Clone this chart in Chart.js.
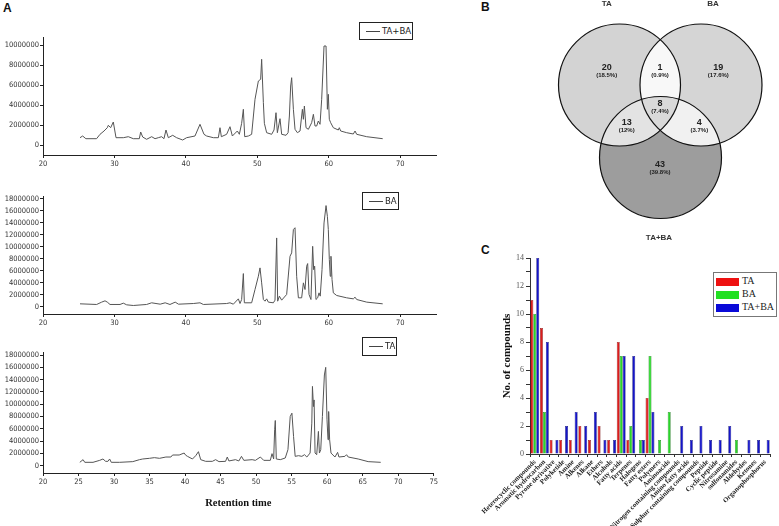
<!DOCTYPE html>
<html>
<head>
<meta charset="utf-8">
<script src="https://cdn.jsdelivr.net/npm/chart.js@4.4.1/dist/chart.umd.min.js"></script>
<style>
  body { margin: 0; background: #fff; width: 779px; height: 526px; position: relative; overflow: hidden; font-family: 'Liberation Sans', Arial, sans-serif; }
  canvas { position: absolute; }
  .tag { position: absolute; font-weight: bold; font-size: 12px; color: #111; }
  .lg { position: absolute; border: 1px solid #222; background: #fff; box-sizing: border-box; font-family: 'Liberation Sans Narrow', 'DejaVu Sans Condensed', sans-serif; font-size: 9.5px; color: #222; white-space: nowrap; }
  .lg i { position: absolute; left: 6px; top: 8px; width: 14px; border-top: 1px solid #444; }
  .lg span { position: absolute; left: 22px; top: 2px; }
  .lgc { position: absolute; left: 713px; top: 272px; width: 64px; height: 45px; border: 1px solid #777; box-sizing: border-box; background: #fff; font-family: 'Liberation Serif', 'Times New Roman', serif; font-size: 10px; color: #222; }
  .lgc div { position: absolute; left: 2px; height: 10px; line-height: 10px; }
  .lgc b { display: inline-block; width: 23px; height: 8px; vertical-align: middle; margin-right: 3px; }
</style>
</head>
<body>
<div class="tag" style="left:3px;top:1px">A</div>
<div class="tag" style="left:481px;top:0px">B</div>
<div class="tag" style="left:481px;top:243px">C</div>

<canvas id="a1" width="440" height="172" style="left:0;top:0"></canvas>
<canvas id="a2" width="440" height="160" style="left:0;top:172px"></canvas>
<canvas id="a3" width="440" height="194" style="left:0;top:332px"></canvas>
<canvas id="venn" width="339" height="250" style="left:440px;top:0"></canvas>
<canvas id="bars" width="339" height="276" style="left:440px;top:250px"></canvas>

<div class="lg" style="left:359px;top:22px;width:54px;height:18px"><i></i><span>TA+BA</span></div>
<div class="lg" style="left:362px;top:192px;width:37px;height:18px"><i></i><span>BA</span></div>
<div class="lg" style="left:362px;top:337px;width:35px;height:19px"><i></i><span>TA</span></div>

<div class="lgc">
  <div style="top:3px"><b style="background:#ee1111"></b>TA</div>
  <div style="top:16px"><b style="background:#22e022"></b>BA</div>
  <div style="top:29px"><b style="background:#0a0ad8"></b>TA+BA</div>
</div>

<script>
// ---- Panel A: chromatograms, retention time (min) vs abundance (millions) ----
const tabaTime = [25.18,25.55,26.0,27.5,27.98,28.54,29.0,29.14,29.47,29.84,30.22,31.24,31.94,32.64,33.48,33.67,33.95,34.5,35.21,35.68,36.14,36.6,36.93,37.21,37.54,38.15,38.7,39.55,40.1,41.27,41.97,42.53,42.9,43.84,44.54,44.77,44.96,45.7,46.17,46.5,47.2,47.48,47.8,48.04,48.23,48.74,49.2,49.67,50.14,50.46,50.6,50.84,50.98,51.3,52.0,52.33,52.61,52.8,53.17,53.4,54.01,54.3,54.48,54.66,54.8,55.04,55.27,55.6,55.97,56.3,56.44,56.58,56.81,57.14,57.6,57.84,58.07,58.3,58.53,58.77,59.0,59.33,59.61,59.8,59.93,60.07,60.26,60.63,61.33,61.47,61.66,62.5,63.43,63.67,63.9,65.3,67.54];
const tabaSignal = [0.73,0.9,0.63,0.63,1.07,1.4,1.73,1.97,1.73,2.3,0.73,0.73,0.83,0.63,0.63,1.3,0.8,0.57,0.83,0.63,0.73,0.83,0.63,1.5,0.73,0.97,0.73,0.5,0.73,0.9,2.07,1.07,0.9,0.73,0.73,1.73,0.83,1.07,1.83,0.9,1.4,1.07,2.17,3.57,0.83,0.9,1.07,4.57,6.4,6.57,8.57,4.23,2.17,1.23,1.07,1.5,3.23,1.23,2.63,1.07,0.97,1.23,2.9,5.9,6.73,3.57,1.57,1.23,1.4,3.57,2.57,3.9,1.73,1.57,2.23,3.07,1.9,1.9,2.4,2.07,4.57,9.9,9.9,3.57,5.07,2.57,2.23,1.73,1.5,1.73,1.4,1.23,1.1,1.4,1.07,0.83,0.63];

const baTime = [25.18,27.51,28.21,28.68,29.0,29.38,30.78,31.24,31.71,32.64,34.5,35.2,36.4,37.1,37.77,38.5,38.96,41.04,41.97,42.44,45.7,46.17,46.64,47.34,47.57,47.8,48.04,48.18,49.2,49.67,50.14,50.37,50.6,50.84,51.07,51.3,51.54,52.24,52.47,52.7,52.84,53.08,53.4,54.1,54.57,54.8,55.04,55.27,55.5,55.74,56.2,56.44,56.67,56.9,57.04,57.23,57.5,57.74,57.88,58.02,58.2,58.44,58.63,58.8,59.05,59.33,59.61,59.8,59.93,60.07,60.2,60.3,60.45,60.63,61.1,62.5,63.43,63.67,63.9,65.3,67.54];
const baSignal = [0.5,0.39,0.78,1.0,0.78,0.39,0.39,0.61,0.33,0.22,0.39,0.67,0.44,0.67,0.39,0.78,0.44,0.55,0.67,0.39,0.55,0.67,0.44,1.33,0.55,1.22,5.55,0.67,0.67,2.89,5.11,6.5,4.0,1.22,0.94,1.33,0.78,0.67,1.11,11.5,0.94,1.78,1.11,2.06,8.44,9.0,12.9,13.2,5.1,1.5,1.5,4.0,2.89,6.78,7.22,2.06,1.22,10.1,6.2,6.78,1.22,1.5,2.33,1.78,6.2,14.0,16.9,15.1,12.9,7.9,5.1,8.44,4.55,2.33,1.89,1.5,1.33,1.61,1.22,0.78,0.5];

const taTime = [25.18,25.64,25.88,27.04,27.98,28.44,28.82,29.14,29.38,29.61,30.78,32.64,33.58,34.04,34.98,35.68,36.4,37.3,38.0,38.24,39.17,39.87,40.1,40.34,41.04,41.5,41.88,42.2,42.9,43.84,44.3,44.77,45.7,45.94,46.17,47.1,47.57,47.94,48.27,49.44,49.9,50.6,51.07,52.0,52.24,52.47,52.61,52.7,52.84,53.4,54.1,54.48,54.8,55.04,55.27,55.5,55.97,56.44,56.81,57.14,57.6,57.84,57.93,58.07,58.16,58.3,58.53,58.77,58.91,59.1,59.33,59.61,59.8,59.98,60.12,60.21,60.35,60.54,61.1,61.47,61.66,62.5,62.73,62.97,64.37,65.77,67.54];
const taSignal = [0.54,0.97,0.54,0.54,0.86,1.08,0.7,0.7,1.08,0.54,0.54,0.65,0.97,1.08,1.19,1.3,1.19,1.4,1.4,1.73,1.73,2.05,1.68,1.51,1.08,1.62,2.27,0.97,0.7,0.7,0.97,0.65,0.7,1.4,0.76,0.97,0.76,1.51,0.86,0.97,0.86,1.4,0.86,0.86,1.95,1.08,5.84,7.35,1.08,0.97,1.24,2.6,8.0,8.54,4.76,1.51,1.62,1.51,1.78,1.4,2.05,6.92,12.9,9.62,10.7,2.05,1.78,5.57,2.05,2.6,8.0,14.76,16.0,7.46,4.22,8.81,4.22,2.05,1.4,2.16,1.4,1.51,1.78,1.4,1.08,0.65,0.54];

// tick labels of the abundance axes
const tabaTicks = [0, 2000000, 4000000, 6000000, 8000000, 10000000];
const baTicks = [0, 2000000, 4000000, 6000000, 8000000, 10000000, 12000000, 14000000, 16000000, 18000000];
const taTicks = baTicks;

// ---- Panel B: Venn diagram ----
const vennSets = ['TA', 'BA', 'TA+BA'];
const vennCounts = [20, 1, 19, 8, 13, 4, 43];
const vennShares = ['(18.5%)', '(0.9%)', '(17.6%)', '(7.4%)', '(12%)', '(3.7%)', '(39.8%)'];

// ---- Panel C: compound classes ----
const classes = ['Heterocyclic compounds','Aromatic hydrocarbon','Pyrone derivative','Polyketide','Amine','Alkenes','Alkane','Ethers','Alcohols','Fatty acids','Terpenes','Halogens','Fatty esters','Polymers','Aminoacids','Nitrogen containing compounds','Amino fatty acids','Sulphur containing compounds','Peptide','Cyclic peptide','Nitrosamine','sulfonamides','Aldehydes','Ketones','Organophosphorus'];
const taCounts   = [11,9,1,1,1,2,1,2,1,8,1,0,4,0,0,0,0,0,0,0,0,0,0,0,0];
const baCounts   = [10,3,0,0,0,0,0,0,0,7,2,1,7,1,3,0,0,0,0,0,0,1,0,0,0];
const tabaCounts = [14,8,1,2,3,2,3,1,1,7,7,1,3,0,0,2,1,2,1,1,2,0,1,1,1];

Chart.defaults.animation = false;
Chart.defaults.responsive = false;
Chart.defaults.devicePixelRatio = 1;

const narrow = "'Liberation Sans Narrow', 'DejaVu Sans Condensed', sans-serif";
const serif = "'Liberation Serif', 'Times New Roman', serif";

function chromatogram(id, times, signal, cfg) {
  const points = times.map((t, i) => ({ x: t, y: signal[i] * 1e6 }));
  new Chart(document.getElementById(id), {
    type: 'line',
    data: { datasets: [{ data: points, borderColor: '#555', borderWidth: 1, pointRadius: 0, tension: 0 }] },
    options: {
      layout: { padding: { top: cfg.top, right: 4, left: 0, bottom: 0 } },
      plugins: { legend: { display: false }, tooltip: { enabled: false } },
      scales: {
        x: {
          type: 'linear', min: 20, max: 75,
          border: { color: '#222' },
          grid: { drawOnChartArea: false, tickLength: 3, color: '#222' },
          ticks: { maxRotation: 0, padding: 2, color: '#333', font: { family: narrow, size: 7.5 } },
          afterBuildTicks: s => { s.ticks = cfg.xTicks.map(v => ({ value: v })); },
          title: cfg.title ? { display: true, text: 'Retention time', color: '#111', font: { family: serif, size: 10.5, weight: 'bold' }, padding: { top: 2, bottom: 16 } } : { display: false },
          afterFit: s => { s.height = cfg.xh; }
        },
        y: {
          min: cfg.ymin, max: cfg.ymax,
          border: { color: '#222' },
          grid: { drawOnChartArea: false, tickLength: 3, color: '#222' },
          ticks: { padding: 1, color: '#333', font: { family: narrow, size: 7.5 }, callback: v => String(v) },
          afterBuildTicks: s => { s.ticks = cfg.yTicks.map(v => ({ value: v })); },
          afterFit: s => { s.width = 43; }
        }
      }
    }
  });
}

const timeTicks10 = [20, 30, 40, 50, 60, 70];
const timeTicks5 = [20, 25, 30, 35, 40, 45, 50, 55, 60, 65, 70, 75];

chromatogram('a1', tabaTime, tabaSignal, { top: 37, xh: 17, ymin: -1e6, ymax: 10.8e6, xTicks: timeTicks10, yTicks: tabaTicks });
chromatogram('a2', baTime, baSignal, { top: 24, xh: 18, ymin: -1.2e6, ymax: 18.5e6, xTicks: timeTicks10, yTicks: baTicks });
chromatogram('a3', taTime, taSignal, { top: 20, xh: 53, ymin: -1.2e6, ymax: 18.5e6, xTicks: timeTicks5, yTicks: taTicks, title: true });

// Venn layout in the units of the venn chart's scales
const vennCenters = [{ x: 179.5, y: 85 }, { x: 261, y: 85 }, { x: 220.5, y: 157.5 }];
const vennRadius = 61;
const vennFills = ['#d3d3d3', '#d5d5d5', '#9d9d9d'];
const vennSetPos = [{ x: 166.7, y: 4 }, { x: 273, y: 4 }, { x: 219, y: 238 }];
const vennLabelPos = [{ x: 166.7, y: 68 }, { x: 220, y: 68 }, { x: 278.3, y: 68 }, { x: 220, y: 104 }, { x: 186.7, y: 123 }, { x: 259.3, y: 123 }, { x: 220, y: 165 }];

const vennPlugin = {
  id: 'vennRegions',
  beforeDatasetsDraw(chart) {
    const ctx = chart.ctx;
    const xs = chart.scales.x, ys = chart.scales.y;
    const c = chart.data.datasets.map((ds, i) => {
      const el = chart.getDatasetMeta(i).data[0];
      const r = xs.getPixelForValue(ds.data[0].x + vennRadius) - el.x;
      return { x: el.x, y: el.y, r };
    });
    const circ = k => { ctx.beginPath(); ctx.arc(c[k].x, c[k].y, c[k].r, 0, Math.PI * 2); };
    const lens = (clips, fillK, color) => {
      ctx.save();
      clips.forEach(k => { circ(k); ctx.clip(); });
      circ(fillK); ctx.fillStyle = color; ctx.fill();
      ctx.restore();
    };
    ctx.save();
    [0, 1, 2].forEach(k => { circ(k); ctx.fillStyle = vennFills[k]; ctx.fill(); });
    ctx.restore();
    lens([0], 1, '#f8f8f8');
    lens([0], 2, '#e3e3e3');
    lens([1], 2, '#f1f1f1');
    lens([0, 1], 2, '#d9d9d9');
    ctx.save();
    ctx.strokeStyle = '#111'; ctx.lineWidth = 1.2;
    [0, 1, 2].forEach(k => { circ(k); ctx.stroke(); });
    ctx.textAlign = 'center'; ctx.textBaseline = 'middle'; ctx.fillStyle = '#333';
    ctx.font = "bold 8px 'Liberation Sans', Arial, sans-serif";
    vennSets.forEach((s, i) => ctx.fillText(s, xs.getPixelForValue(vennSetPos[i].x), ys.getPixelForValue(vennSetPos[i].y)));
    vennCounts.forEach((n, i) => {
      const px = xs.getPixelForValue(vennLabelPos[i].x), py = ys.getPixelForValue(vennLabelPos[i].y);
      ctx.fillStyle = '#222';
      ctx.font = "bold 9px 'Liberation Sans', Arial, sans-serif";
      ctx.fillText(String(n), px, py);
      ctx.font = "bold 6px 'Liberation Sans', Arial, sans-serif";
      ctx.fillText(vennShares[i], px, py + 7);
    });
    ctx.restore();
  }
};

new Chart(document.getElementById('venn'), {
  type: 'scatter',
  data: {
    datasets: vennSets.map((s, i) => ({
      label: s, data: [vennCenters[i]], pointRadius: 0, pointBorderWidth: 0, borderWidth: 0, clip: false
    }))
  },
  options: {
    layout: { padding: 0 },
    plugins: { legend: { display: false }, tooltip: { enabled: false } },
    scales: {
      x: { display: false, min: 0, max: 339 },
      y: { display: false, min: 0, max: 250, reverse: true }
    }
  },
  plugins: [vennPlugin]
});

new Chart(document.getElementById('bars'), {
  type: 'bar',
  data: {
    labels: classes,
    datasets: [
      { label: 'TA', data: taCounts, backgroundColor: '#dc1c1c', borderColor: '#7a1010', borderWidth: 0.6 },
      { label: 'BA', data: baCounts, backgroundColor: '#2ad42a', borderColor: '#157015', borderWidth: 0.6 },
      { label: 'TA+BA', data: tabaCounts, backgroundColor: '#1414c8', borderColor: '#06066a', borderWidth: 0.6 }
    ]
  },
  options: {
    datasets: { bar: { categoryPercentage: 0.92, barPercentage: 1 } },
    layout: { padding: { top: 8, right: 9, left: 0, bottom: 0 } },
    plugins: { legend: { display: false }, tooltip: { enabled: false } },
    scales: {
      x: {
        border: { color: '#333' },
        grid: { drawOnChartArea: false, tickLength: 3, color: '#333' },
        ticks: { autoSkip: false, minRotation: 45, maxRotation: 45, padding: 1, color: '#222', font: { family: serif, size: 7, weight: 'bold' } },
        afterFit: s => { s.height = 72; }
      },
      y: {
        min: 0, max: 14,
        border: { color: '#333' },
        grid: { drawOnChartArea: false, tickLength: 4, color: '#333' },
        ticks: { stepSize: 1, padding: 2, color: '#555', font: { family: serif, size: 8 }, callback: v => (v % 2 === 0 ? v : '') },
        title: { display: true, text: 'No. of compounds', color: '#111', font: { family: serif, size: 11, weight: 'bold' }, padding: { top: 61, bottom: 0 } },
        afterFit: s => { s.width = 90; }
      }
    }
  }
});
</script>
</body>
</html>
